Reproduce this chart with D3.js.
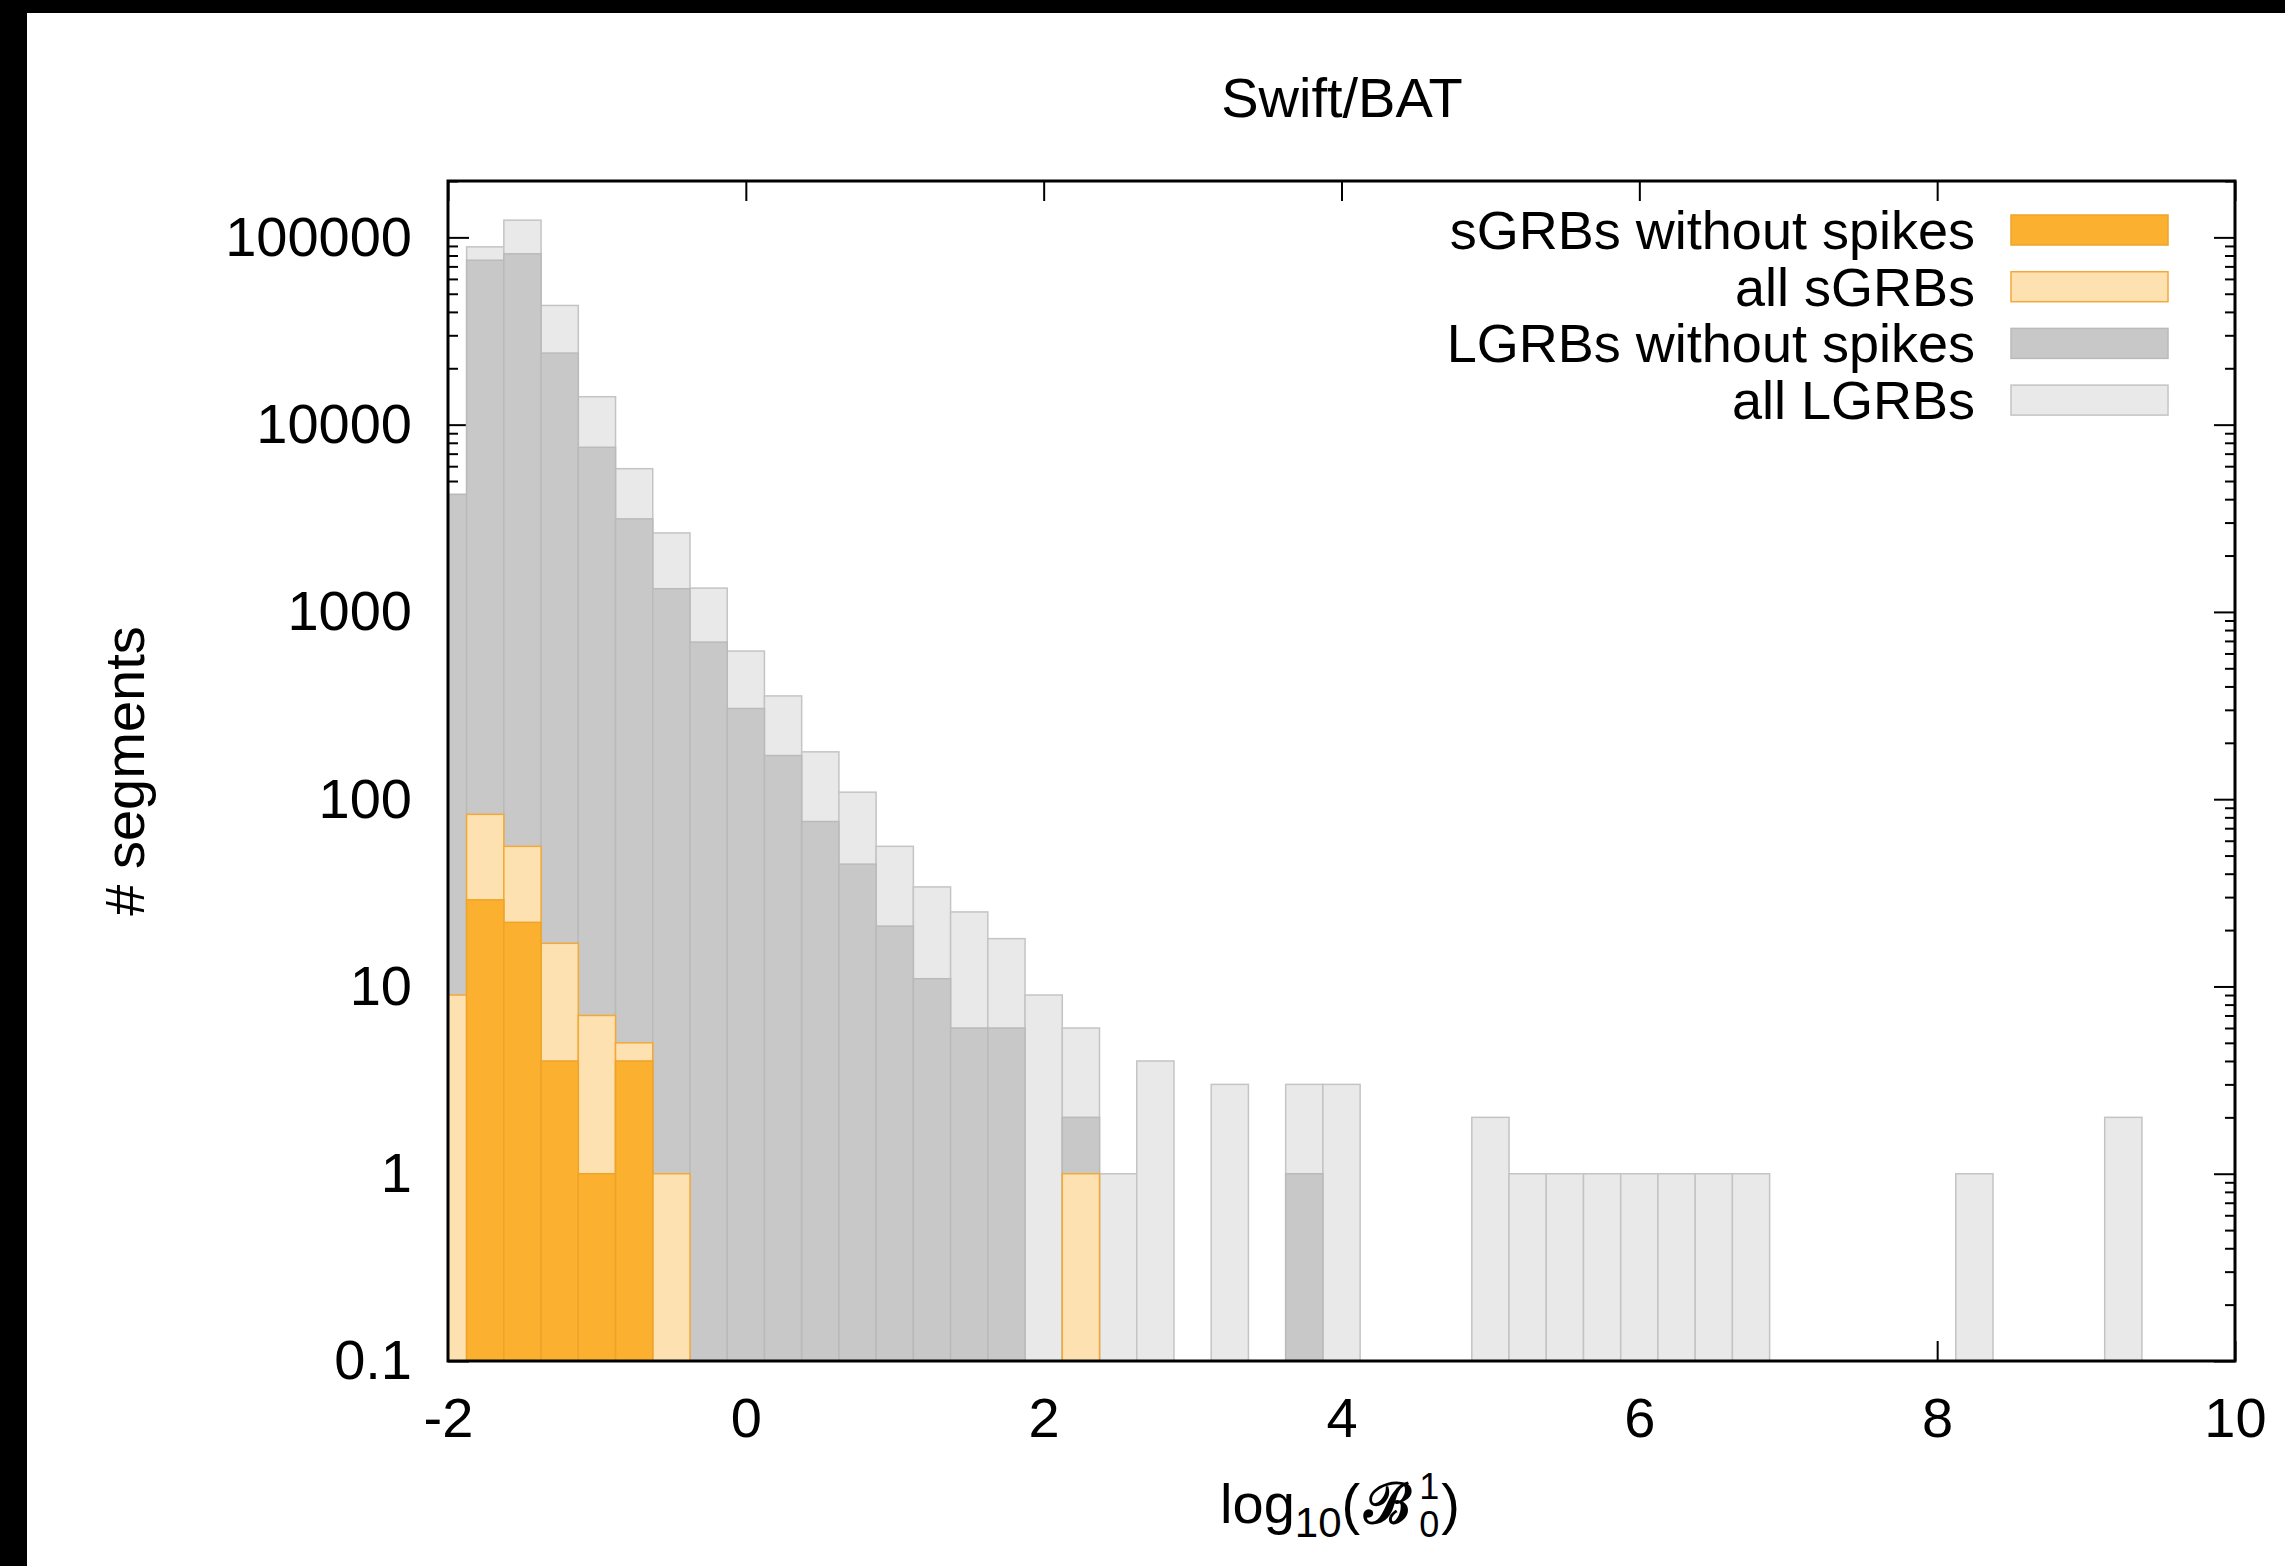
<!DOCTYPE html>
<html>
<head>
<meta charset="utf-8">
<script src="https://cdn.jsdelivr.net/npm/d3@7"></script>
<style>
  html, body { margin: 0; padding: 0; background: #fff; }
  svg { display: block; }
  text { font-family: "Liberation Sans", Arial, Helvetica, sans-serif; fill: #000; }
</style>
</head>
<body>
<svg id="chart" width="2285" height="1566"></svg>
<script>
// ---- data (bin centres of log10(B01), width 0.25) ----
const binCenters = [-2, -1.75, -1.5, -1.25, -1, -0.75, -0.5, -0.25,
  0, 0.25, 0.5, 0.75, 1, 1.25, 1.5, 1.75, 2, 2.25, 2.5, 2.75,
  3, 3.25, 3.5, 3.75, 4, 4.25, 4.5, 4.75, 5, 5.25, 5.5, 5.75,
  6, 6.25, 6.5, 6.75, 7, 7.25, 7.5, 7.75, 8, 8.25, 8.5, 8.75, 9, 9.25];
const binWidth = 0.25;

const allLGRB = [4240, 89000, 123600, 43300, 14100, 5820, 2640, 1340,
  618, 356, 179, 109, 56, 34, 25, 18, 9, 6, 1, 4,
  0, 3, 0, 3, 3, 0, 0, 0, 2, 1, 1, 1,
  1, 1, 1, 1, 0, 0, 0, 0, 0, 1, 0, 0, 0, 2];
const noSpikeLGRB = [4240, 75500, 81700, 24100, 7570, 3140, 1330, 690,
  305, 171, 76, 45, 21, 11, 6, 6, 0, 2, 0, 0,
  0, 0, 0, 1, 0, 0, 0, 0, 0, 0, 0, 0,
  0, 0, 0, 0, 0, 0, 0, 0, 0, 0, 0, 0, 0, 0];
const allSGRB = [9, 83, 56, 17, 7, 5, 1, 0,
  0, 0, 0, 0, 0, 0, 0, 0, 0, 1, 0, 0,
  0, 0, 0, 0, 0, 0, 0, 0, 0, 0, 0, 0,
  0, 0, 0, 0, 0, 0, 0, 0, 0, 0, 0, 0, 0, 0];
const noSpikeSGRB = [0, 29, 22, 4, 1, 4, 0, 0,
  0, 0, 0, 0, 0, 0, 0, 0, 0, 0, 0, 0,
  0, 0, 0, 0, 0, 0, 0, 0, 0, 0, 0, 0,
  0, 0, 0, 0, 0, 0, 0, 0, 0, 0, 0, 0, 0, 0];

const xTicks = [-2, 0, 2, 4, 6, 8, 10];
const xTickLabels = ["-2", "0", "2", "4", "6", "8", "10"];
const yTicks = [0.1, 1, 10, 100, 1000, 10000, 100000];
const yTickLabels = ["0.1", "1", "10", "100", "1000", "10000", "100000"];

const seriesNames = ["sGRBs without spikes", "all sGRBs", "LGRBs without spikes", "all LGRBs"];
const titleText = "Swift/BAT";
const yTitle = "# segments";

// ---- layout ----
const W = 2285, H = 1566;
const L = 448, R = 2235, T = 181, B = 1361;
const FS = 56;

const styles = {
  "all LGRBs":            { fill: "#e9e9e9", stroke: "#c4c4c4" },
  "LGRBs without spikes": { fill: "#c8c8c8", stroke: "#bababa" },
  "all sGRBs":            { fill: "#fde1b1", stroke: "#f2a93a" },
  "sGRBs without spikes": { fill: "#fbb12f", stroke: "#eea42a" }
};

const svg = d3.select("#chart");
svg.append("rect").attr("x", 0).attr("y", 0).attr("width", W).attr("height", H).attr("fill", "#fff");
svg.append("rect").attr("x", 0).attr("y", 0).attr("width", W).attr("height", 13).attr("fill", "#000");
svg.append("rect").attr("x", 0).attr("y", 0).attr("width", 27).attr("height", H).attr("fill", "#000");

const x = d3.scaleLinear().domain([-2, 10]).range([L, R]);
const y = d3.scaleLog().domain([0.1, 200000]).range([B, T]);

// minor y ticks
const minorY = [];
for (let e = -1; e <= 5; e++) {
  for (let m = 2; m <= 9; m++) {
    const v = m * Math.pow(10, e);
    if (v <= 200000) minorY.push(v);
  }
}

function styleAxis(g) {
  g.select(".domain").remove();
  g.selectAll(".tick line").attr("stroke", "#000").attr("stroke-width", 2);
  g.selectAll(".tick text").attr("font-size", FS).attr("fill", "#000")
    .attr("font-family", "'Liberation Sans', Arial, Helvetica, sans-serif");
}

// ticks (drawn beneath bars)
const axes = svg.append("g");
axes.append("g").attr("transform", `translate(0,${B})`)
  .call(d3.axisBottom(x).tickValues(xTicks).tickFormat((d, i) => xTickLabels[i])
    .tickSizeInner(-20).tickSizeOuter(0).tickPadding(36))
  .call(styleAxis);
axes.append("g").attr("transform", `translate(0,${T})`)
  .call(d3.axisTop(x).tickValues(xTicks).tickFormat("").tickSizeInner(-20).tickSizeOuter(0))
  .call(styleAxis);
axes.append("g").attr("transform", `translate(${L},0)`)
  .call(d3.axisLeft(y).tickValues(yTicks).tickFormat((d, i) => yTickLabels[i])
    .tickSizeInner(-21).tickSizeOuter(0).tickPadding(36))
  .call(styleAxis);
axes.append("g").attr("transform", `translate(${L},0)`)
  .call(d3.axisLeft(y).tickValues(minorY).tickFormat("").tickSizeInner(-10).tickSizeOuter(0))
  .call(styleAxis);
axes.append("g").attr("transform", `translate(${R},0)`)
  .call(d3.axisRight(y).tickValues(yTicks).tickFormat("").tickSizeInner(-21).tickSizeOuter(0))
  .call(styleAxis);
axes.append("g").attr("transform", `translate(${R},0)`)
  .call(d3.axisRight(y).tickValues(minorY).tickFormat("").tickSizeInner(-10).tickSizeOuter(0))
  .call(styleAxis);

// clip
svg.append("defs").append("clipPath").attr("id", "plotclip")
  .append("rect").attr("x", L).attr("y", T).attr("width", R - L).attr("height", B - T);

const plot = svg.append("g").attr("clip-path", "url(#plotclip)");

function drawSeries(values, name) {
  const st = styles[name];
  const data = binCenters.map((c, i) => ({ c, v: values[i] })).filter(d => d.v > 0);
  plot.append("g").selectAll("rect").data(data).join("rect")
    .attr("x", d => x(d.c - binWidth / 2))
    .attr("width", d => x(d.c + binWidth / 2) - x(d.c - binWidth / 2))
    .attr("y", d => y(d.v))
    .attr("height", d => y(0.1) - y(d.v))
    .attr("fill", st.fill)
    .attr("stroke", st.stroke)
    .attr("stroke-width", 1.5);
}
drawSeries(allLGRB, "all LGRBs");
drawSeries(noSpikeLGRB, "LGRBs without spikes");
drawSeries(allSGRB, "all sGRBs");
drawSeries(noSpikeSGRB, "sGRBs without spikes");

// frame
svg.append("rect").attr("x", L).attr("y", T).attr("width", R - L).attr("height", B - T)
  .attr("fill", "none").attr("stroke", "#000").attr("stroke-width", 3);

// legend
const legend = svg.append("g");
seriesNames.forEach((name, i) => {
  const cy = 230 + i * 56.7;
  legend.append("text").attr("x", 1975).attr("y", cy + 19)
    .attr("text-anchor", "end").attr("font-size", 54).text(name);
  legend.append("rect").attr("x", 2011).attr("y", cy - 15).attr("width", 157).attr("height", 30)
    .attr("fill", styles[name].fill).attr("stroke", styles[name].stroke).attr("stroke-width", 1.5);
});

// title
svg.append("text").attr("x", 1342).attr("y", 117).attr("text-anchor", "middle")
  .attr("font-size", FS).text(titleText);

// y title
svg.append("text").attr("transform", "translate(144,771) rotate(-90)")
  .attr("text-anchor", "middle").attr("font-size", FS).text(yTitle);

// x title: log10(B_0^1)
const xt = svg.append("g");
let cursor = 0;
function piece(str, size, dy, opts = {}) {
  const t = xt.append("text").attr("x", cursor).attr("y", dy).attr("font-size", size).text(str);
  if (opts.family) t.attr("font-family", opts.family);
  if (opts.weight) t.attr("font-weight", opts.weight);
  if (opts.style) t.attr("font-style", opts.style);
  const w = t.node().getComputedTextLength();
  return { t, w };
}
let p = piece("log", FS, 0); cursor += p.w;
p = piece("10", 42, 14); cursor += p.w;
p = piece("(", FS, 0); cursor += p.w + 4;
p = piece("\u212C", FS, 0, { family: "'DejaVu Serif', 'DejaVu Sans', serif", weight: "bold" }); cursor += p.w + 8;
const s1 = piece("1", 36, -24);
const s0 = piece("0", 36, 14);
cursor += Math.max(s1.w, s0.w) + 2;
p = piece(")", FS, 0); cursor += p.w;
xt.attr("transform", `translate(${1340 - cursor / 2},1523)`);
</script>
</body>
</html>
